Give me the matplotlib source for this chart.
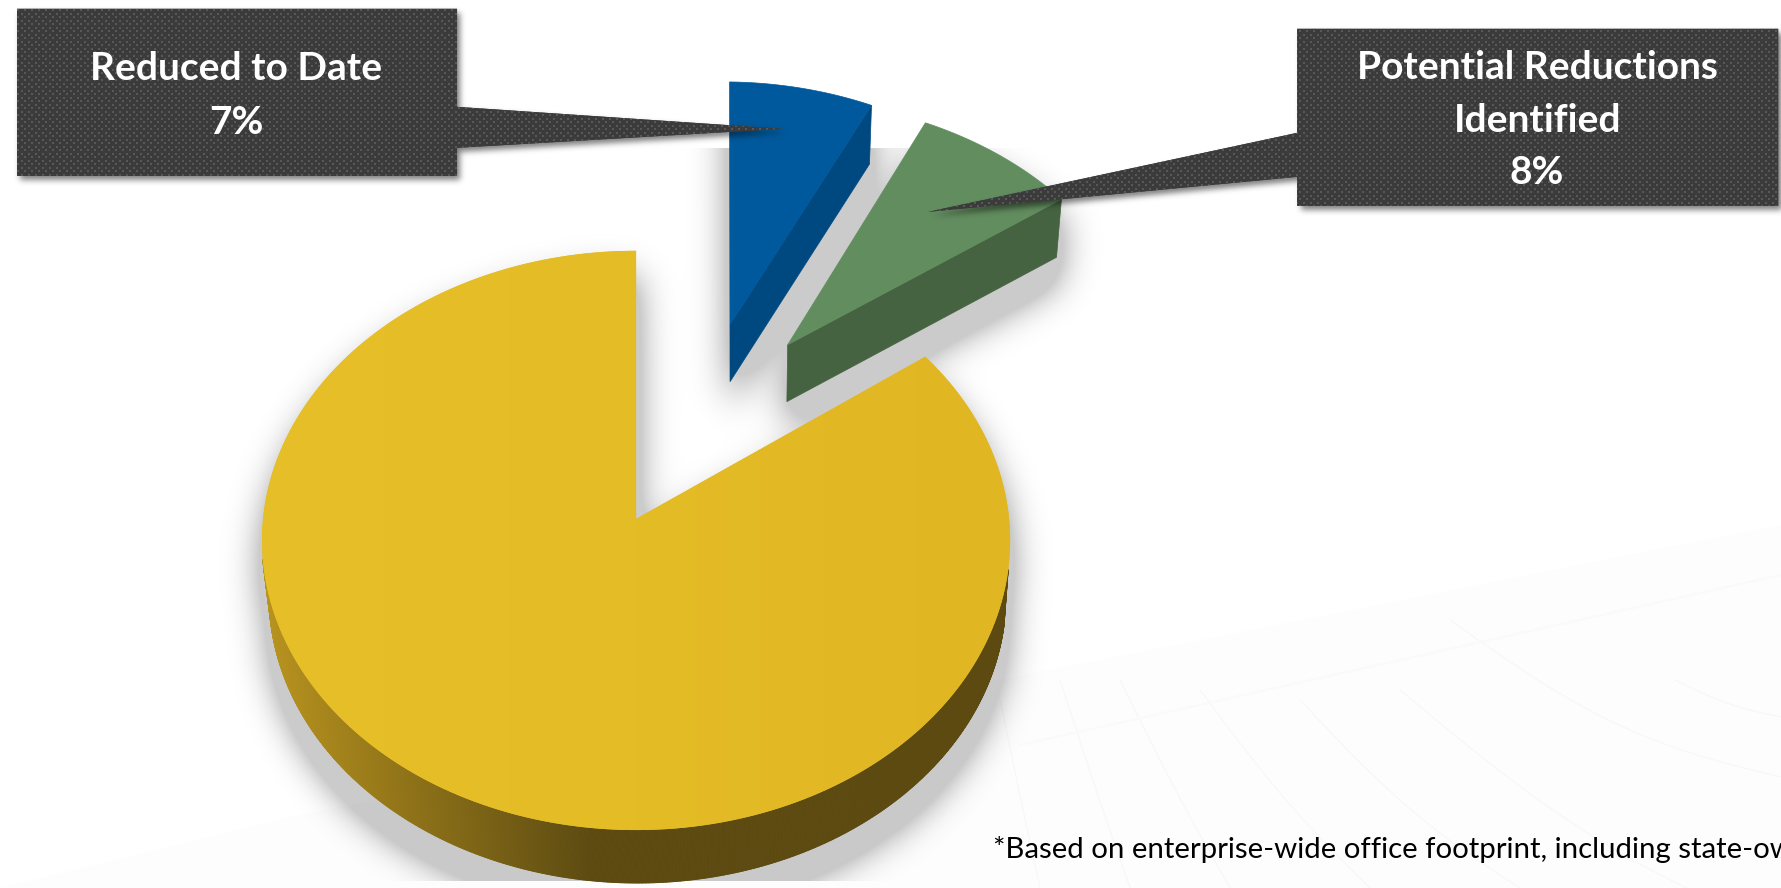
"""Enterprise office footprint reductions: exploded 3D pie with two callouts."""
import numpy as np
import matplotlib
matplotlib.use("Agg")
import matplotlib.pyplot as plt
from matplotlib.backends.backend_agg import FigureCanvasAgg
from matplotlib.collections import PolyCollection
from matplotlib.colors import LinearSegmentedColormap, to_rgb
from matplotlib.figure import Figure
from matplotlib.patches import Polygon

W, H = 1781, 888
FIGSIZE = ((W + 0.2) / 100, (H + 0.2) / 100)

slice_names = ["Reduced to Date", "Potential Reductions\nIdentified", "Remaining"]
slice_shares = [7, 8, 85]
top_colors = ["#00599C", "#628D5F", "#E3BB26"]
wall_colors = ["#004880", "#456340", "#5C4A10"]
footnote = "*Based on enterprise-wide office footprint, including state-owned"

# disc-plane offset and small turn of each exploded slice
offsets = [(0.265, 0.71), (0.4255, 0.633), (0.0, 0.0)]
turns = [1.0, 0.8, 0.0]


def project(u, v):
    """Perspective map from the unit disc to pixel coordinates."""
    den = 1 + 0.0743 * v
    return 636 + 373 * u / den, (519 - 249.4 * v) / den


def drop(x, y):
    """Lower rim of the pie for a point on the top face."""
    return 735 + (x - 735) * 0.985, y + 58 - (y - 200) * 5 / 630


def rim(start, stop, off, n=240):
    # angles run clockwise from twelve o'clock
    a = np.radians(np.linspace(start, stop, n))
    return project(off[0] + np.sin(a), off[1] + np.cos(a))


def raster_mask(polys):
    f = Figure(figsize=FIGSIZE, dpi=100)
    FigureCanvasAgg(f)
    a = f.add_axes([0, 0, 1, 1])
    a.set_xlim(0, W)
    a.set_ylim(H, 0)
    a.axis("off")
    for p in polys:
        a.fill(p[:, 0], p[:, 1], color="k", lw=0)
    f.canvas.draw()
    return 1 - np.asarray(f.canvas.buffer_rgba())[..., 0] / 255


def blur(m, sigma, pad=80):
    # padded so nothing wraps round the image edges
    m = np.pad(m, pad)
    fy = np.fft.fftfreq(m.shape[0])[:, None]
    fx = np.fft.rfftfreq(m.shape[1])[None, :]
    kernel = np.exp(-2 * (np.pi * sigma) ** 2 * (fx ** 2 + fy ** 2))
    return np.fft.irfft2(np.fft.rfft2(m) * kernel, s=m.shape)[pad:-pad, pad:-pad]


def shadow_layer(ax, polys, sigma, gain, alpha, dx=0, dy=0, ylim=(0, H), zorder=1):
    m = blur(raster_mask([p + (dx, dy) for p in polys]), sigma)
    m = np.clip(m * gain, 0, 1) * alpha
    m[:ylim[0]] = 0
    m[ylim[1]:] = 0
    rgba = np.zeros((H, W, 4))
    rgba[..., 3] = m
    ax.imshow(rgba, extent=(0, W, H, 0), aspect="auto", zorder=zorder,
              interpolation="nearest")


fig = plt.figure(figsize=FIGSIZE, dpi=100)
ax = fig.add_axes([0, 0, 1, 1])
ax.axis("off")
plt.rcParams["font.family"] = ["Lato", "DejaVu Sans"]

# faint floor behind the pie ------------------------------------------------
ax.add_patch(Polygon([(1781, 525), (1050, 670), (300, 815), (0, 888), (1781, 888)],
                     fc="#FDFDFD", ec="none", zorder=0))
for x0, y0, x1, y1, bend in [(1781, 777, 1450, 620, 25), (1781, 717, 1675, 680, 5),
                             (1781, 930, 1400, 690, 25), (1520, 888, 1300, 700, 15),
                             (1370, 888, 1200, 690, 10), (1230, 888, 1120, 680, 5),
                             (1130, 888, 1060, 680, 3), (1040, 888, 1000, 700, 2)]:
    t = np.linspace(0, 1, 40)
    ax.plot(x0 + (x1 - x0) * t, y0 + (y1 - y0) * t + bend * np.sin(np.pi * t),
            color="#F7F7F7", lw=0.8, zorder=0)
ax.plot([1781, 1020], [575, 745], color="#FAFAFA", lw=1.5, zorder=0)

# slice outlines ------------------------------------------------------------
bounds = np.cumsum([0] + slice_shares) * 3.6
tops, bottoms = [], []
for i in range(3):
    x, y = rim(bounds[i] + turns[i], bounds[i + 1] + turns[i], offsets[i])
    vx, vy = project(*offsets[i])
    tx, ty = np.r_[vx, x], np.r_[vy, y]
    bx, by = drop(tx, ty)
    tops.append(np.c_[tx, ty])
    bottoms.append(np.c_[bx, by])

shadow_polys = tops + bottoms
for i in range(3):
    shadow_polys.append(np.r_[tops[i], bottoms[i][::-1]])
shadow_layer(ax, shadow_polys, 18, 2.4, 0.205, dy=26, ylim=(149, 881), zorder=1)

# yellow wall: strips shaded from the lit left side into the dark front
xt, yt = rim(100, 262, offsets[2], 800)
xb, yb = drop(xt, yt)
quads = [[(xt[i], yt[i]), (xt[i + 1], yt[i + 1]), (xb[i + 1], yb[i + 1]), (xb[i], yb[i])]
         for i in range(len(xt) - 1)]
lit, dark = np.array(to_rgb("#B8931F")), np.array(to_rgb(wall_colors[2]))
mix = np.clip((xt[:-1] - 262) / (590 - 262), 0, 1)[:, None]
strip_colors = lit * (1 - mix) + dark * mix
ax.add_collection(PolyCollection(quads, facecolors=strip_colors, edgecolors=strip_colors,
                                 linewidths=0.6, zorder=2))

# yellow top face with its slight left-to-right falloff
yellow_patch = Polygon(tops[2], fc=top_colors[2], ec="none", zorder=3)
ax.add_patch(yellow_patch)
cmap = LinearSegmentedColormap.from_list("yel", ["#E7BF28", "#E4BC26", "#E0B623"])
im = ax.imshow(np.linspace(0, 1, 256)[None, :], extent=(259, 1010, 888, 240), cmap=cmap,
               aspect="auto", zorder=3.1)
im.set_clip_path(yellow_patch)

# blue and green walls and faces
for i in (0, 1):
    e = len(tops[i]) - 1
    quad = [tops[i][0], tops[i][e], bottoms[i][e], bottoms[i][0]]
    ax.add_patch(Polygon(quad, fc=wall_colors[i], ec=wall_colors[i], lw=0.5, zorder=4 + i))
    ax.add_patch(Polygon(tops[i], fc=top_colors[i], ec=top_colors[i], lw=0.5, zorder=4.5 + i))

# callouts ------------------------------------------------------------------
callouts = [
    np.array([(17, 9), (457, 9), (457, 107), (783, 129), (457, 148), (457, 176), (17, 176)], float),
    np.array([(1297, 29), (1778, 29), (1778, 206), (1297, 206), (1297, 177), (928, 212), (1297, 133)], float),
]
shadow_layer(ax, callouts, 3, 1.0, 0.5, dx=3, dy=5, zorder=6)

tile = np.full((7, 7), 0x3B / 255)
tile[0:2, 0:2] = 0x58 / 255
tile[3:5, 3:5] = 0x58 / 255
weave = np.tile(tile, (H // 7 + 1, W // 7 + 1))[:H, :W]
for poly in callouts:
    patch = Polygon(poly, fc="#3B3B3B", ec="none", zorder=7)
    ax.add_patch(patch)
    tex = ax.imshow(weave, extent=(0, W, H, 0), cmap="gray", vmin=0, vmax=1, aspect="auto",
                    zorder=7.1, interpolation="nearest")
    tex.set_clip_path(patch)

label_kw = dict(color="white", fontweight="bold", fontsize=28, ha="center", va="baseline",
                zorder=8)
ax.text(236.5, 80, slice_names[0], **label_kw)
ax.text(236.5, 134, f"{slice_shares[0]}%", **label_kw)
for line, ypos in zip(slice_names[1].split("\n") + [f"{slice_shares[1]}%"], (79, 132, 184)):
    ax.text(1537, ypos, line, **label_kw)

ax.text(993, 858, footnote, color="black", fontsize=21.2, ha="left", va="baseline",
        zorder=8, clip_on=True)

ax.set_xlim(0, W)
ax.set_ylim(H, 0)
fig.savefig("out.png", dpi=100, facecolor="white")
